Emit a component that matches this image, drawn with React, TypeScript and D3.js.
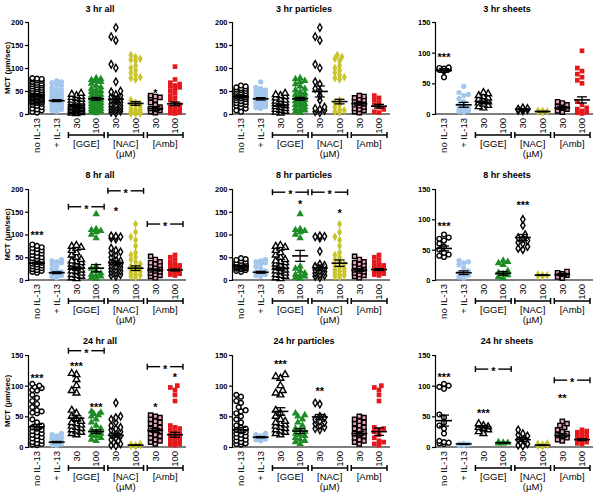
import React, { useRef, useEffect } from 'react';
import * as d3 from 'd3';

const groupLabels = ['no IL-13', '+ IL-13', '30', '100', '30', '100', '30', '100'];
const bracketLabels = ['[GGE]', '[NAC]', '[Amb]'];
const panelTitles = [
  '3 hr all', '3 hr particles', '3 hr sheets',
  '8 hr all', '8 hr particles', '8 hr sheets',
  '24 hr all', '24 hr particles', '24 hr sheets'
];
const panelMax = [200, 200, 150, 200, 200, 150, 150, 150, 150];

// MCT values (µm/sec) per group
const all3hr: number[][] = [
  [78, 77, 76, 75, 73, 72, 70, 68, 66, 65, 63, 62, 60, 58, 57, 55, 54, 52, 50, 49, 48, 47, 45, 44, 43, 42, 41, 40, 39, 38, 37, 36, 35, 34, 33, 32, 31, 30, 29, 28, 27, 26, 25, 24, 22, 20, 18, 15, 12, 10, 8, 5, 3],
  [72, 70, 68, 65, 62, 58, 55, 52, 50, 48, 46, 44, 42, 40, 38, 36, 34, 32, 30, 29, 28, 27, 26, 25, 24, 22, 20, 18, 16, 14, 12, 10, 8, 6],
  [45, 43, 40, 38, 36, 34, 32, 30, 28, 26, 25, 24, 22, 20, 19, 18, 17, 16, 15, 14, 13, 12, 11, 10, 9, 8, 7, 6, 5, 4, 3, 2, 1],
  [78, 76, 74, 72, 70, 66, 62, 58, 55, 52, 50, 48, 45, 42, 40, 38, 36, 34, 32, 30, 28, 26, 24, 22, 20, 18, 16, 14, 12, 10, 8, 6, 4, 2],
  [188, 168, 160, 108, 100, 70, 50, 48, 42, 40, 38, 35, 32, 30, 28, 25, 22, 20, 18, 16, 14, 12, 10, 8, 6, 4, 2],
  [128, 124, 120, 118, 115, 105, 100, 95, 90, 85, 80, 78, 75, 30, 25, 22, 20, 18, 15, 12, 10, 8, 6, 5, 4, 3, 2, 1, 1, 0],
  [40, 38, 36, 35, 30, 25, 20, 15, 12, 10, 8, 5, 3],
  [103, 75, 68, 65, 62, 60, 58, 55, 50, 45, 40, 35, 30, 25, 20, 15, 12, 10, 8, 5, 3, 2, 1]
];
const particles3hr: number[][] = [
  [62, 60, 58, 56, 55, 53, 52, 50, 48, 47, 45, 44, 42, 40, 39, 38, 36, 35, 34, 32, 30, 28, 26, 24, 22, 20, 18, 15, 12, 8, 5],
  [70, 58, 55, 52, 50, 48, 46, 44, 42, 40, 38, 36, 34, 32, 30, 28, 26, 24, 22, 20, 18, 16, 14, 12],
  [45, 42, 40, 38, 35, 32, 30, 28, 26, 24, 22, 20, 18, 16, 14, 12, 10, 8, 6, 4, 2],
  [78, 76, 72, 70, 65, 60, 55, 52, 48, 45, 42, 40, 38, 35, 32, 30, 28, 25, 22, 20, 18, 15, 12, 10, 8, 5, 3],
  [188, 168, 160, 108, 100, 70, 65, 55, 50, 40, 30, 15, 12, 10, 8, 5, 3],
  [128, 124, 120, 115, 105, 100, 95, 90, 85, 80, 78, 75, 30, 25, 20, 15, 10, 8, 5, 3],
  [40, 38, 35, 32, 30, 28, 25, 22, 20, 18, 15, 12, 10, 8, 5, 3],
  [40, 35, 30, 25, 20, 15, 10, 5, 3]
];
const sheets3hr: number[][] = [
  [76, 75, 74, 73, 72, 70, 60],
  [45, 35, 32, 30, 25, 20, 15, 12, 10, 8, 6, 5, 4, 3],
  [35, 33, 30, 28, 26, 24, 22, 20, 18, 16, 14, 12, 10],
  [],
  [10, 9, 8, 8, 7, 6, 5],
  [5, 5, 4, 4, 3],
  [20, 18, 15, 12, 10, 8, 5, 3],
  [103, 75, 70, 65, 60, 55, 50, 20, 15, 10, 8, 5, 3, 2, 1]
];
const all8hr: number[][] = [
  [78, 75, 72, 70, 68, 65, 62, 60, 58, 55, 52, 50, 48, 46, 44, 42, 40, 38, 36, 34, 32, 30, 28, 26, 24, 22, 20, 18, 16],
  [45, 42, 40, 38, 35, 30, 25, 20, 18, 15, 12, 10, 8, 5],
  [76, 74, 72, 70, 65, 60, 55, 50, 45, 42, 40, 38, 35, 32, 30, 28, 25, 22, 20, 18, 15, 12, 10, 8, 5, 3],
  [145, 112, 110, 108, 105, 100, 92, 30, 25, 20, 15, 12, 10, 8, 5, 3],
  [97, 96, 95, 92, 90, 70, 65, 62, 60, 55, 50, 45, 42, 40, 38, 35, 32, 30, 28, 25, 22, 20, 18, 15, 12, 10, 8],
  [123, 105, 95, 88, 75, 60, 55, 50, 45, 40, 35, 30, 28, 25, 22, 20, 18, 15, 12, 10, 8, 5],
  [52, 45, 40, 38, 35, 32, 30, 28, 25, 22, 20, 18, 15, 12, 10, 8, 5],
  [55, 50, 45, 40, 35, 32, 30, 28, 26, 24, 22, 20, 18, 16, 14, 12, 10]
];
const particles8hr: number[][] = [
  [48, 46, 44, 42, 40, 38, 36, 35, 34, 33, 32, 31, 30, 29, 28, 27, 26, 25, 24, 22, 20, 18],
  [45, 42, 40, 38, 35, 30, 25, 20, 18, 15, 12, 10, 8],
  [76, 74, 72, 70, 65, 60, 55, 50, 45, 42, 40, 38, 35, 32, 30, 28, 25, 22, 20, 18, 15, 12, 10, 8, 5, 3],
  [145, 112, 110, 108, 105, 100, 92, 30, 25, 20, 15, 12, 10, 8, 5, 3],
  [97, 96, 95, 92, 63, 35, 32, 30, 28, 25, 22, 20, 18, 15, 12, 10, 8, 5],
  [123, 105, 95, 88, 75, 60, 55, 50, 45, 40, 35, 30, 28, 25, 22, 20, 18, 15, 12, 10, 8, 5],
  [52, 45, 40, 38, 35, 32, 30, 28, 25, 22, 20, 18, 15, 12, 10, 8, 5],
  [55, 50, 45, 40, 35, 32, 30, 28, 26, 24, 22, 20, 18, 16, 14, 12, 10]
];
const sheets8hr: number[][] = [
  [75, 70, 68, 65, 60, 55, 50, 45, 42, 40, 38],
  [32, 30, 28, 25, 20, 15, 12, 10, 8, 5, 3],
  [],
  [32, 30, 28, 25, 15, 12, 10, 8, 5, 3],
  [100, 90, 75, 70, 68, 65, 62, 60, 55, 52, 50],
  [9, 8, 8, 7, 6],
  [14, 12, 10, 8, 5, 3],
  []
];
const all24hr: number[][] = [
  [103, 100, 98, 96, 93, 92, 85, 80, 75, 70, 65, 60, 58, 56, 55, 45, 40, 35, 32, 30, 28, 26, 24, 22, 20, 18, 16, 14, 12, 10, 8, 6, 5, 4, 3],
  [22, 20, 18, 16, 14, 12, 10, 8, 6, 5, 4, 3],
  [120, 118, 110, 100, 92, 88, 60, 55, 50, 45, 42, 40, 38, 36, 34, 32, 30, 28, 26, 24, 22, 20],
  [58, 56, 54, 52, 50, 45, 40, 35, 30, 28, 25, 22, 20, 18, 15, 12, 10],
  [72, 50, 48, 45, 40, 35, 32, 30, 28, 25, 22, 20, 18, 15, 12, 10, 8, 5, 3, 2],
  [5, 4, 3, 3, 2, 1],
  [52, 50, 48, 45, 42, 40, 38, 35, 32, 30, 28, 25, 22, 20, 18, 15, 12, 10, 8, 5],
  [100, 97, 93, 85, 75, 35, 32, 30, 28, 25, 22, 20, 18, 16, 14, 12, 10, 8, 6, 5, 4, 3]
];
const particles24hr: number[][] = [
  [85, 82, 75, 72, 65, 60, 58, 55, 50, 45, 40, 35, 32, 30, 28, 26, 24, 22, 20, 18, 16, 14, 12, 10, 8, 6, 5, 4],
  [22, 20, 18, 16, 15, 14, 13, 12, 10],
  [118, 115, 112, 100, 92, 88, 85, 60, 55, 50, 45, 42, 40, 38, 36, 34, 32, 30, 28, 26, 24, 22, 20],
  [55, 52, 50, 45, 40, 35, 30, 28, 25, 22, 20, 18, 15, 12, 10, 8, 5],
  [72, 70, 50, 48, 45, 42, 40, 38, 35, 32, 30, 28],
  [],
  [50, 48, 45, 42, 40, 38, 35, 32, 30, 28, 25, 22, 20, 18, 15, 12, 10, 8, 5],
  [100, 97, 93, 85, 75, 32, 30, 28, 25, 20, 15, 10, 8, 5, 3]
];
const sheets24hr: number[][] = [
  [103, 100, 98, 95, 53, 48, 40, 35, 30, 22, 10, 8, 7, 6, 5],
  [6, 5, 5, 4, 4, 3, 3],
  [38, 35, 33, 32, 30, 28, 25, 22],
  [8, 7, 7, 6, 6],
  [28, 22, 20, 18, 15, 12, 10, 8, 5, 3, 2],
  [6, 5, 4, 3, 2, 1],
  [42, 38, 35, 32, 28, 25, 22, 20, 18, 15, 12, 10],
  [28, 26, 24, 22, 20, 18, 16, 14, 12, 10, 8, 6, 5]
];

// mean and SEM as drawn in the picture (null = no data)
const panelMeans: (number | null)[][] = [
  [40, 29, 18, 33, 32, 23, 12, 22],
  [38, 33, 18, 33, 49, 27, 22, 17],
  [71, 15, 19, null, 8, 4, 10, 23],
  [37, 16, 26, 26, 38, 26, 22, 22],
  [31, 17, 25, 53, 27, 37, 22, 23],
  [52, 12, null, 11, 70, 8, 9, null],
  [33, 8, 47, 25, 19, 3, 27, 20],
  [28, 16, 58, 26, 49, null, 22, 25],
  [43, 5, 33, 7, 12, 3, 19, 12]
];
const panelSems: number[][] = [
  [2, 2, 2, 3, 7, 4, 4, 4],
  [2, 2.5, 2, 3, 12, 5, 3, 4],
  [3, 4, 2, 0, 1, 0.5, 2, 5],
  [2, 2, 3, 8, 4, 5, 2, 2],
  [1.5, 2, 3, 12, 6, 7, 3, 2],
  [4, 3, 0, 3, 5, 0.5, 2, 0],
  [4, 1, 4, 3, 3, 0.5, 3, 4],
  [4, 1, 6, 4, 4, 0, 3, 6],
  [9, 0.5, 2, 0.5, 3, 0.5, 3, 1.5]
];

// significance stars: [group, value, text]
const panelStars: [number, number, string][][] = [
  [[6, 51, '*']],
  [],
  [[0, 97, '***']],
  [[0, 103, '***'], [4, 157, '*']],
  [[3, 172, '*'], [5, 152, '*']],
  [[0, 92, '***'], [4, 127, '***']],
  [[0, 116, '***'], [2, 136, '***'], [3, 69, '***'], [6, 69, '*'], [7, 117, '*']],
  [[2, 139, '***'], [4, 95, '**']],
  [[0, 117, '***'], [2, 58, '***'], [6, 83, '**']]
];
// comparison brackets: [from group, to group, value]
const panelBrackets: [number, number, number][][] = [
  [], [], [],
  [[2, 3, 161], [4, 5, 196], [6, 7, 123]],
  [[2, 3, 193], [4, 5, 193]],
  [],
  [[2, 3, 157], [6, 7, 131]],
  [],
  [[2, 3, 127], [6, 7, 109]]
];

const panelData = [all3hr, particles3hr, sheets3hr, all8hr, particles8hr, sheets8hr, all24hr, particles24hr, sheets24hr];

const markers = [
  { type: d3.symbolCircle, size: 18, fill: '#fff', stroke: '#000' },
  { type: d3.symbolCircle, size: 22, fill: '#a3c6ec', stroke: 'none' },
  { type: d3.symbolTriangle, size: 20, fill: '#fff', stroke: '#000' },
  { type: d3.symbolTriangle, size: 24, fill: '#1d8c24', stroke: 'none' },
  { type: d3.symbolDiamond, size: 16, fill: '#fff', stroke: '#000' },
  { type: d3.symbolDiamond, size: 22, fill: '#c8c52c', stroke: 'none' },
  { type: d3.symbolSquare, size: 18, fill: '#eba3b6', stroke: '#000' },
  { type: d3.symbolSquare, size: 22, fill: '#e5191c', stroke: 'none' }
];

function swarm(values: number[], y: (v: number) => number, cx: number, r: number, maxW: number) {
  const placed: { x: number; y: number }[] = [];
  const step = r * 0.9;
  [...values].sort((a, b) => a - b).forEach(v => {
    const py = y(v);
    let best = 0;
    let bestOverlap = Infinity;
    for (let k = 0; k < 40; k++) {
      const off = (k % 2 === 1 ? -1 : 1) * Math.ceil(k / 2) * step;
      if (Math.abs(off) > maxW) break;
      let overlap = 0;
      placed.forEach(p => {
        const d = Math.hypot(p.x - (cx + off), p.y - py);
        if (d < 1.7 * r) overlap += 1.7 * r - d;
      });
      if (overlap === 0) { best = off; bestOverlap = 0; break; }
      if (overlap < bestOverlap) { bestOverlap = overlap; best = off; }
    }
    placed.push({ x: cx + best, y: py });
  });
  return placed;
}

const App: React.FC = () => {
  const svgRef = useRef<SVGSVGElement>(null);

  useEffect(() => {
    if (!svgRef.current) return;
    const svg = d3.select(svgRef.current);
    svg.selectAll('*').remove();

    const font = 'Arial, "Liberation Sans", sans-serif';
    const axisX = [28, 232, 435];
    const rowTop = [22, 189, 355];
    const rowBottom = [114, 280, 447];
    const titleY = [12, 178, 344];

    panelData.forEach((groups, pi) => {
      const row = Math.floor(pi / 3);
      const col = pi % 3;
      const x0 = axisX[col];
      const g = svg.append('g').style('font-family', font);

      const y = d3.scaleLinear().domain([0, panelMax[pi]]).range([rowBottom[row], rowTop[row]]);
      const x = d3.scalePoint<number>().domain(d3.range(8)).range([x0 + 9, x0 + 147]);

      g.append('text')
        .attr('x', x0 + 72).attr('y', titleY[row])
        .attr('text-anchor', 'middle').attr('font-size', '9px').attr('font-weight', 'bold')
        .text(panelTitles[pi]);

      // y axis
      const yAxis = d3.axisLeft(y).tickValues(d3.range(0, panelMax[pi] + 1, 50)).tickSize(3).tickPadding(1.5);
      const ya = g.append('g').attr('transform', `translate(${x0},0)`).call(yAxis);
      ya.select('.domain').attr('stroke-width', 1.2);
      ya.selectAll('.tick line').attr('stroke-width', 1.2);
      ya.selectAll('.tick text').attr('font-size', '7.5px').attr('font-weight', 'bold').attr('font-family', font);

      // x axis line
      g.append('line')
        .attr('x1', x0).attr('x2', x0 + 158)
        .attr('y1', y(0)).attr('y2', y(0))
        .attr('stroke', '#000').attr('stroke-width', 1.2);

      if (col === 0) {
        g.append('text')
          .attr('transform', `translate(10,${(rowTop[row] + rowBottom[row]) / 2}) rotate(-90)`)
          .attr('text-anchor', 'middle').attr('font-size', '8px').attr('font-weight', 'bold')
          .text('MCT (µm/sec)');
      }

      // group labels
      groupLabels.forEach((lab, i) => {
        g.append('text')
          .attr('transform', `translate(${x(i)},${y(0) + 4}) rotate(-90)`)
          .attr('text-anchor', 'end').attr('dy', '0.35em').attr('font-size', '9.5px')
          .text(lab);
      });

      // treatment brackets
      bracketLabels.forEach((lab, b) => {
        const xa = x(2 + b * 2)! - 8;
        const xb = x(3 + b * 2)! + 8;
        const by = y(0) + 21;
        g.append('line').attr('x1', xa).attr('x2', xb).attr('y1', by).attr('y2', by)
          .attr('stroke', '#000').attr('stroke-width', 1.5);
        [xa, xb].forEach(xx => g.append('line').attr('x1', xx).attr('x2', xx).attr('y1', by - 3).attr('y2', by + 3)
          .attr('stroke', '#000').attr('stroke-width', 1.5));
        g.append('text').attr('x', (xa + xb) / 2).attr('y', y(0) + 33)
          .attr('text-anchor', 'middle').attr('font-size', '9.5px').text(lab);
        if (b === 1) {
          g.append('text').attr('x', (xa + xb) / 2).attr('y', y(0) + 43)
            .attr('text-anchor', 'middle').attr('font-size', '9.5px').text('(µM)');
        }
      });

      // points
      groups.forEach((vals, i) => {
        const m = markers[i];
        const pts = swarm(vals, y, x(i)!, 2.6, 7);
        const sym = d3.symbol().type(m.type).size(m.size);
        g.append('g').selectAll('path').data(pts).enter().append('path')
          .attr('d', sym as any)
          .attr('transform', p => `translate(${p.x},${p.y})`)
          .attr('fill', m.fill)
          .attr('stroke', m.stroke)
          .attr('stroke-width', 1.4);

        const mean = panelMeans[pi][i];
        if (mean === null) return;
        const sem = panelSems[pi][i];
        const cx = x(i)!;
        g.append('line').attr('x1', cx - 8).attr('x2', cx + 8).attr('y1', y(mean)).attr('y2', y(mean))
          .attr('stroke', '#000').attr('stroke-width', 1.6);
        if (sem > 0) {
          g.append('line').attr('x1', cx).attr('x2', cx).attr('y1', y(mean - sem)).attr('y2', y(mean + sem))
            .attr('stroke', '#000').attr('stroke-width', 1.3);
          [mean - sem, mean + sem].forEach(v => g.append('line')
            .attr('x1', cx - 5).attr('x2', cx + 5).attr('y1', y(v)).attr('y2', y(v))
            .attr('stroke', '#000').attr('stroke-width', 1.3));
        }
      });

      // stars
      panelStars[pi].forEach(([gi, v, t]) => {
        g.append('text').attr('x', x(gi)).attr('y', y(v) + 6)
          .attr('text-anchor', 'middle').attr('font-size', '11px').attr('font-weight', 'bold')
          .text(t);
      });

      // comparison brackets
      panelBrackets[pi].forEach(([a, b, v]) => {
        const xa = x(a)! - 8;
        const xb = x(b)! + 8;
        const by = y(v);
        const mid = (xa + xb) / 2;
        g.append('line').attr('x1', xa).attr('x2', mid - 5).attr('y1', by).attr('y2', by)
          .attr('stroke', '#000').attr('stroke-width', 1.4);
        g.append('line').attr('x1', mid + 5).attr('x2', xb).attr('y1', by).attr('y2', by)
          .attr('stroke', '#000').attr('stroke-width', 1.4);
        [xa, xb].forEach(xx => g.append('line').attr('x1', xx).attr('x2', xx).attr('y1', by - 3).attr('y2', by + 3)
          .attr('stroke', '#000').attr('stroke-width', 1.4));
        g.append('text').attr('x', mid).attr('y', by + 6)
          .attr('text-anchor', 'middle').attr('font-size', '11px').attr('font-weight', 'bold')
          .text('*');
      });
    });
  }, []);

  return (
    <svg
      ref={svgRef}
      width={600}
      height={493}
      style={{ position: 'absolute', left: 0, top: 0, background: '#fff' }}
    />
  );
};

export default App;
